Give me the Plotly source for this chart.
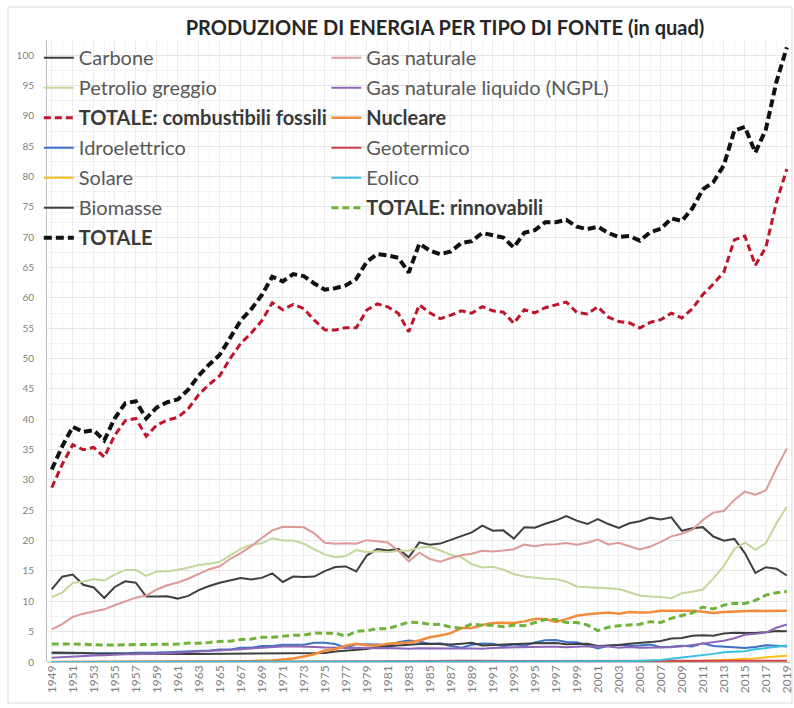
import plotly.graph_objects as go

years = list(range(1949, 2020))

carbone = [11.974, 14.060, 14.419, 12.734, 12.278, 10.542, 12.370, 13.306, 13.061, 10.783,
           10.778, 10.817, 10.447, 10.901, 11.849, 12.524, 13.055, 13.468, 13.825, 13.609,
           13.863, 14.607, 13.186, 14.092, 13.992, 14.074, 14.989, 15.654, 15.755, 14.910,
           17.540, 18.598, 18.377, 18.639, 17.247, 19.719, 19.325, 19.509, 20.141, 20.738,
           21.360, 22.488, 21.636, 21.694, 20.336, 22.202, 22.130, 22.790, 23.310, 24.045,
           23.295, 22.735, 23.547, 22.732, 22.094, 22.852, 23.185, 23.790, 23.493, 23.851,
           21.624, 22.038, 22.221, 20.677, 20.001, 20.286, 17.946, 14.667, 15.625, 15.363,
           14.256]

gas_naturale = [5.377, 6.233, 7.416, 7.964, 8.339, 8.682, 9.345, 10.002, 10.605, 10.942,
                11.952, 12.656, 13.097, 13.717, 14.513, 15.298, 15.775, 17.011, 17.943, 19.068,
                20.446, 21.666, 22.280, 22.208, 22.187, 21.210, 19.640, 19.480, 19.565, 19.485,
                20.076, 19.908, 19.699, 18.319, 16.593, 18.008, 16.980, 16.541, 17.136, 17.599,
                17.847, 18.326, 18.229, 18.375, 18.584, 19.348, 19.082, 19.344, 19.394, 19.613,
                19.341, 19.662, 20.166, 19.382, 19.633, 19.074, 18.556, 19.022, 19.786, 20.703,
                21.139, 21.806, 23.406, 24.621, 24.889, 26.718, 28.067, 27.576, 28.289, 31.882,
                35.198]

petrolio = [10.683, 11.447, 13.037, 13.281, 13.671, 13.427, 14.410, 15.180, 15.178, 14.204,
            14.933, 14.935, 15.206, 15.522, 16.000, 16.180, 16.521, 17.561, 18.651, 19.308,
            19.556, 20.401, 20.033, 20.041, 19.493, 18.575, 17.729, 17.262, 17.454, 18.434,
            18.104, 18.249, 18.146, 18.309, 18.392, 18.848, 18.992, 18.376, 17.675, 17.279,
            16.117, 15.571, 15.701, 15.223, 14.494, 14.103, 13.887, 13.723, 13.658, 13.235,
            12.451, 12.358, 12.282, 12.160, 12.026, 11.503, 10.963, 10.801, 10.721, 10.509,
            11.348, 11.593, 11.933, 13.771, 15.849, 18.642, 19.707, 18.499, 19.559, 22.815,
            25.595]

ngpl = [0.714, 0.823, 0.920, 0.998, 1.062, 1.113, 1.240, 1.283, 1.289, 1.287,
        1.382, 1.461, 1.549, 1.593, 1.709, 1.763, 1.825, 1.998, 2.082, 2.241,
        2.356, 2.512, 2.544, 2.598, 2.569, 2.471, 2.374, 2.327, 2.327, 2.245,
        2.286, 2.254, 2.307, 2.191, 2.184, 2.274, 2.241, 2.149, 2.215, 2.260,
        2.158, 2.175, 2.306, 2.363, 2.408, 2.391, 2.442, 2.530, 2.495, 2.420,
        2.528, 2.611, 2.547, 2.559, 2.346, 2.466, 2.334, 2.356, 2.409, 2.419,
        2.574, 2.781, 2.999, 3.216, 3.508, 3.922, 4.472, 4.635, 4.847, 5.648,
        6.185]

tot_fossili = [28.748, 32.563, 35.792, 34.977, 35.350, 33.764, 37.365, 39.771, 40.133, 37.216,
               39.045, 39.869, 40.299, 41.733, 44.071, 45.765, 47.176, 50.038, 52.501, 54.226,
               56.221, 59.186, 58.043, 58.939, 58.241, 56.330, 54.732, 54.723, 55.101, 55.074,
               58.006, 59.009, 58.529, 57.458, 54.416, 58.849, 57.538, 56.575, 57.167, 57.876,
               57.482, 58.560, 57.872, 57.655, 55.822, 58.044, 57.541, 58.387, 58.857, 59.313,
               57.615, 57.366, 58.542, 56.833, 56.099, 55.895, 55.038, 55.969, 56.409, 57.482,
               56.685, 58.218, 60.559, 62.285, 64.247, 69.568, 70.192, 65.377, 68.320, 75.708,
               81.234]

nucleare = [0, 0, 0, 0, 0, 0, 0, 0, 0, 0.002,
            0.002, 0.006, 0.020, 0.026, 0.038, 0.040, 0.043, 0.064, 0.088, 0.142,
            0.154, 0.239, 0.413, 0.584, 0.910, 1.272, 1.900, 2.111, 2.702, 3.024,
            2.776, 2.739, 3.008, 3.131, 3.203, 3.553, 4.076, 4.380, 4.754, 5.587,
            5.602, 6.104, 6.422, 6.479, 6.410, 6.694, 7.075, 7.087, 6.597, 7.068,
            7.610, 7.862, 8.029, 8.145, 7.960, 8.223, 8.161, 8.215, 8.459, 8.426,
            8.355, 8.434, 8.269, 8.062, 8.244, 8.338, 8.337, 8.427, 8.419, 8.438,
            8.452]

idroelettrico = [1.425, 1.415, 1.424, 1.466, 1.413, 1.360, 1.360, 1.435, 1.516, 1.592,
                 1.548, 1.608, 1.656, 1.816, 1.771, 1.886, 2.059, 2.062, 2.347, 2.349,
                 2.648, 2.634, 2.824, 2.864, 2.861, 3.177, 3.155, 2.976, 2.333, 2.937,
                 2.931, 2.900, 2.758, 3.266, 3.527, 3.386, 2.970, 3.071, 2.635, 2.334,
                 2.837, 3.046, 3.016, 2.617, 2.892, 2.683, 3.205, 3.590, 3.640, 3.297,
                 3.268, 2.811, 2.242, 2.689, 2.825, 2.690, 2.703, 2.869, 2.446, 2.511,
                 2.669, 2.539, 3.103, 2.629, 2.562, 2.467, 2.321, 2.472, 2.767, 2.663,
                 2.562]

geotermico = [0, 0, 0, 0, 0, 0, 0, 0, 0, 0,
              0, 0.001, 0.002, 0.002, 0.004, 0.005, 0.004, 0.004, 0.007, 0.010,
              0.007, 0.006, 0.013, 0.031, 0.043, 0.053, 0.070, 0.078, 0.077, 0.064,
              0.084, 0.110, 0.123, 0.105, 0.129, 0.165, 0.198, 0.219, 0.229, 0.217,
              0.200, 0.170, 0.170, 0.170, 0.180, 0.170, 0.150, 0.160, 0.160, 0.160,
              0.170, 0.160, 0.160, 0.160, 0.170, 0.170, 0.170, 0.170, 0.170, 0.170,
              0.180, 0.190, 0.200, 0.210, 0.210, 0.220, 0.220, 0.220, 0.210, 0.220,
              0.210]

solare = [0] * 40 + [0.055, 0.059, 0.062, 0.064, 0.066, 0.068, 0.069, 0.070, 0.070, 0.069,
                     0.068, 0.066, 0.065, 0.064, 0.064, 0.065, 0.066, 0.072, 0.081, 0.097,
                     0.109, 0.127, 0.171, 0.227, 0.307, 0.426, 0.531, 0.570, 0.777, 0.955,
                     1.044]

eolico = [0] * 40 + [0.022, 0.029, 0.031, 0.030, 0.031, 0.036, 0.033, 0.033, 0.034, 0.031,
                     0.046, 0.057, 0.070, 0.105, 0.115, 0.142, 0.178, 0.264, 0.341, 0.546,
                     0.721, 0.923, 1.168, 1.340, 1.601, 1.728, 1.777, 2.096, 2.343, 2.482,
                     2.736]

biomasse = [1.549, 1.562, 1.535, 1.474, 1.419, 1.394, 1.424, 1.416, 1.334, 1.323,
            1.353, 1.320, 1.295, 1.300, 1.323, 1.337, 1.335, 1.369, 1.340, 1.419,
            1.440, 1.431, 1.432, 1.503, 1.529, 1.540, 1.499, 1.713, 1.838, 2.038,
            2.152, 2.476, 2.596, 2.663, 2.904, 2.971, 3.016, 2.932, 2.875, 3.016,
            3.159, 2.735, 2.782, 2.932, 2.908, 3.028, 3.101, 3.157, 3.111, 2.933,
            2.969, 3.010, 2.624, 2.705, 2.805, 3.011, 3.114, 3.276, 3.473, 3.868,
            3.955, 4.325, 4.413, 4.339, 4.690, 4.826, 4.799, 4.787, 4.921, 5.096,
            5.055]

tot_rinnovabili = [2.974, 2.977, 2.959, 2.940, 2.832, 2.754, 2.784, 2.851, 2.850, 2.915,
                   2.901, 2.929, 2.953, 3.118, 3.098, 3.228, 3.398, 3.435, 3.694, 3.778,
                   4.095, 4.071, 4.269, 4.398, 4.433, 4.770, 4.724, 4.767, 4.248, 5.039,
                   5.167, 5.486, 5.477, 6.034, 6.560, 6.522, 6.184, 6.222, 5.739, 5.567,
                   6.273, 6.039, 6.061, 5.813, 6.077, 5.985, 6.558, 7.010, 7.015, 6.490,
                   6.521, 6.104, 5.161, 5.723, 5.979, 6.078, 6.231, 6.651, 6.511, 7.192,
                   7.634, 8.104, 9.055, 8.745, 9.370, 9.667, 9.648, 10.145, 11.018, 11.416,
                   11.607]

totale = [31.722, 35.540, 38.751, 37.917, 38.182, 36.518, 40.149, 42.622, 42.983, 40.133,
          41.948, 42.804, 43.272, 44.877, 47.207, 49.033, 50.617, 53.537, 56.283, 58.146,
          60.470, 63.496, 62.725, 63.921, 63.584, 62.372, 61.356, 61.601, 62.051, 63.137,
          65.949, 67.234, 67.014, 66.623, 64.179, 68.924, 67.798, 67.177, 67.660, 69.030,
          69.357, 70.703, 70.355, 69.947, 68.309, 70.723, 71.174, 72.484, 72.469, 72.871,
          71.746, 71.332, 71.732, 70.701, 70.038, 70.196, 69.430, 70.835, 71.379, 73.100,
          72.674, 74.756, 77.883, 79.092, 81.861, 87.573, 88.177, 83.949, 87.757, 95.562,
          101.293]

y_ticks = list(range(0, 101, 5))
x_ticks = list(range(1949, 2020, 2))

NORM = "#595959"
BOLD = "#3a3a3a"

def lab(t):
    return f"<span style='color:{NORM}'>{t}</span>"

def blab(t):
    return f"<b><span style='color:{BOLD}'>{t}</span></b>"

# (name, values, color, width, dash, legend)
series = [
    (lab("Carbone"), carbone, "#3f3f3f", 2, "solid", "legend"),
    (lab("Petrolio greggio"), petrolio, "#c3d69b", 2, "solid", "legend"),
    (blab("TOTALE: combustibili fossili"), tot_fossili, "#c0142c", 3, "7px,4px", "legend"),
    (lab("Idroelettrico"), idroelettrico, "#3d72c4", 2, "solid", "legend"),
    (lab("Solare"), solare, "#f5c018", 2, "solid", "legend"),
    (lab("Biomasse"), biomasse, "#404040", 2, "solid", "legend"),
    (blab("TOTALE"), totale, "#111111", 4, "8px,4px", "legend"),
    (lab("Gas naturale"), gas_naturale, "#dd9a98", 2, "solid", "legend2"),
    (lab("Gas naturale liquido (NGPL)"), ngpl, "#8e66b8", 2, "solid", "legend2"),
    (blab("Nucleare"), nucleare, "#f28c3a", 2.5, "solid", "legend2"),
    (lab("Geotermico"), geotermico, "#d0404a", 2, "solid", "legend2"),
    (lab("Eolico"), eolico, "#39c1e0", 2, "solid", "legend2"),
    (blab("TOTALE: rinnovabili"), tot_rinnovabili, "#6fb33a", 3, "7px,4px", "legend2"),
]

fig = go.Figure()
for i, (name, vals, color, w, dash, lg) in enumerate(series):
    fig.add_trace(go.Scatter(
        x=years, y=vals, name=name, mode="lines",
        line=dict(color=color, width=w, dash=dash),
        legend=lg, legendgroup=f"g{i}",
    ))

FONT = "Lato"
legend_common = dict(
    bgcolor="rgba(255,255,255,0)",
    font=dict(family=FONT, size=20, color=NORM),
    tracegroupgap=1,
    itemwidth=30,
    xanchor="left", yanchor="top",
)

fig.update_layout(
    width=794, height=708,
    paper_bgcolor="white", plot_bgcolor="white",
    margin=dict(l=47, r=4, t=40, b=46),
    showlegend=True,
    title=dict(
        text="<b>PRODUZIONE DI ENERGIA PER TIPO DI FONTE (in quad)</b>",
        x=445 / 794, xanchor="center", y=1 - 28 / 708, yanchor="middle",
        font=dict(family=FONT, size=20, color="#262626"),
    ),
    legend=dict(x=-0.011, y=1.003, **legend_common),
    legend2=dict(x=0.376, y=1.003, **legend_common),
    xaxis=dict(
        range=[1948.55, 2019.3],
        tickmode="array", tickvals=x_ticks, ticktext=[str(v) for v in x_ticks],
        tickangle=-90,
        tickfont=dict(family=FONT, size=12, color="#7f7f7f"),
        showgrid=True, gridcolor="#ececec", gridwidth=1,
        minor=dict(dtick=1, tick0=1949, showgrid=True, gridcolor="#f5f5f5"),
        showline=False, zeroline=False, ticks="",
        automargin=False,
    ),
    yaxis=dict(
        range=[0, 102.5],
        tickmode="array", tickvals=y_ticks, ticktext=[str(v) for v in y_ticks],
        tickfont=dict(family=FONT, size=10, color="#7f7f7f"),
        showgrid=True, gridcolor="#e6e6e6", gridwidth=1,
        minor=dict(dtick=2.5, showgrid=True, gridcolor="#f3f3f3"),
        showline=True, linecolor="#bfbfbf", linewidth=1,
        zeroline=True, zerolinecolor="#bfbfbf", zerolinewidth=1,
        ticks="", ticklabelstandoff=10, automargin=False,
    ),
    shapes=[dict(
        type="rect", xref="paper", yref="paper",
        x0=-0.0525, x1=1.0027, y0=-0.066, y1=1.053,
        line=dict(color="#d9d9d9", width=1), fillcolor="rgba(0,0,0,0)", layer="below",
    )],
)

fig.write_html(
    "out.html",
    config={"displayModeBar": False},
    post_script="document.body.style.margin='0';document.body.style.overflow='hidden';",
)
